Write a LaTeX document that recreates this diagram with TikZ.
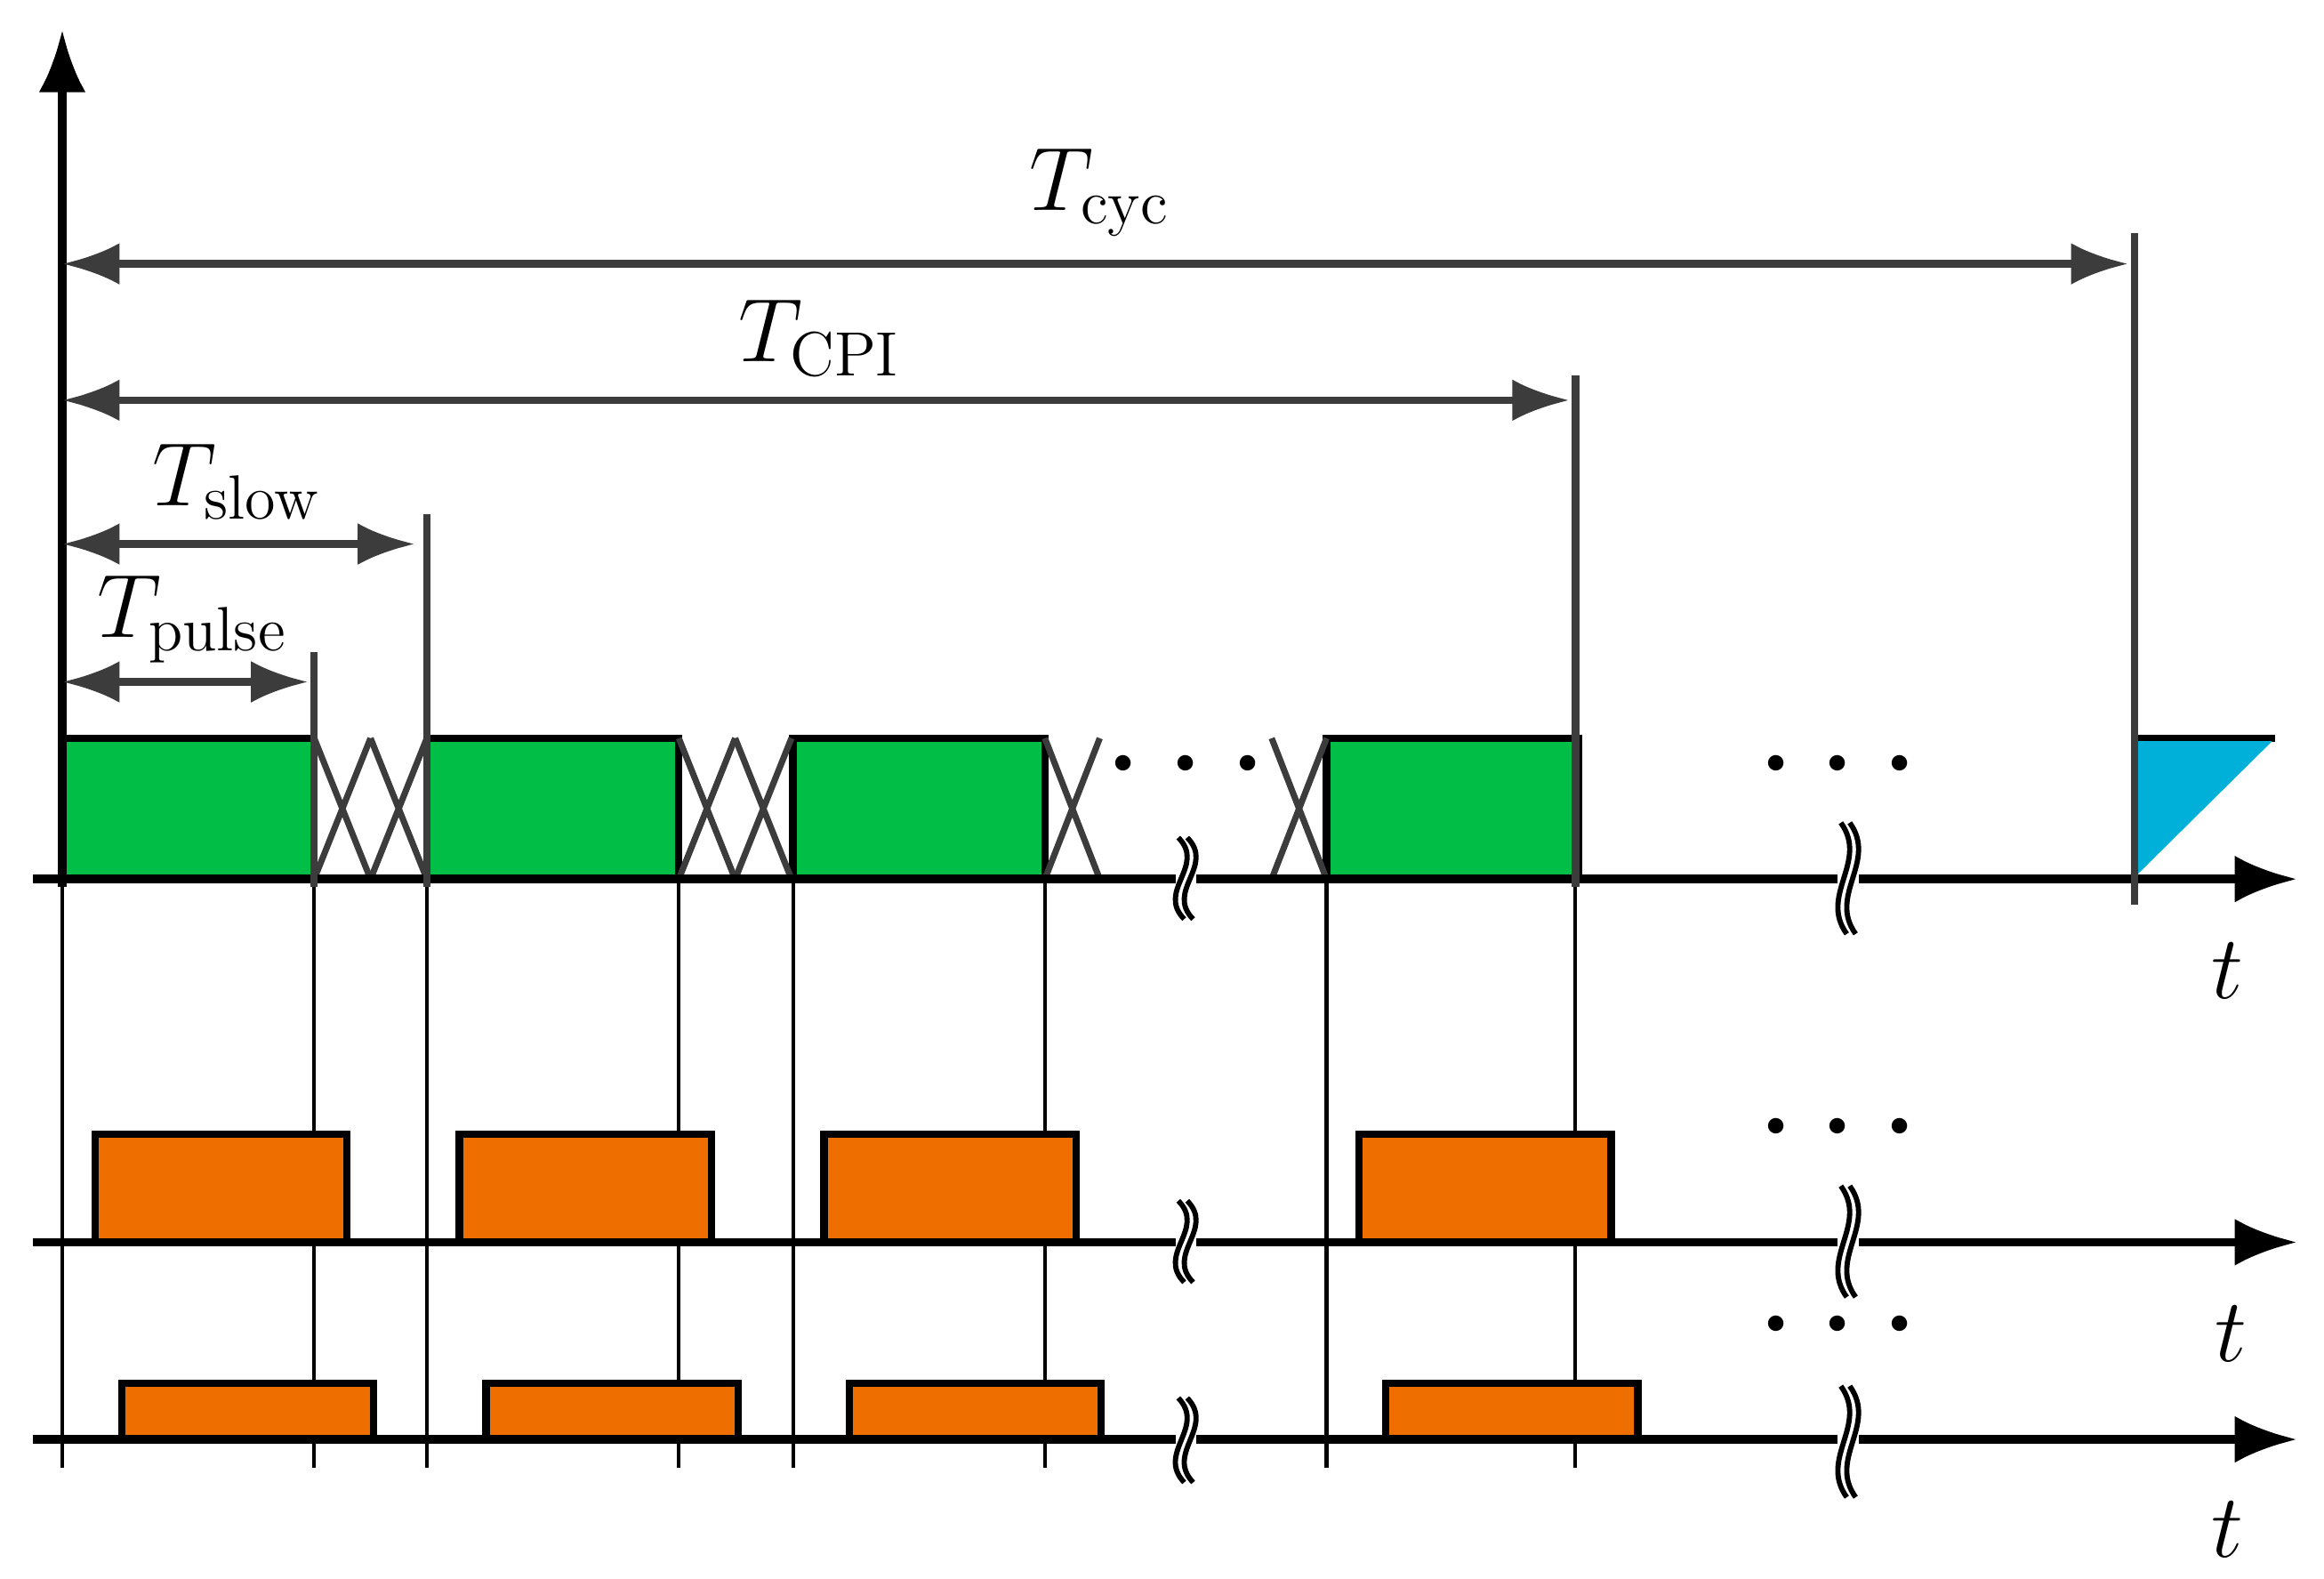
\documentclass[tikz,border=0pt]{standalone}
\usetikzlibrary{arrows.meta}
\definecolor{pgreen}{RGB}{0,190,70}
\definecolor{porange}{RGB}{238,110,0}
\definecolor{pblue}{RGB}{0,176,216}
\definecolor{dgray}{RGB}{60,60,60}
\tikzset{
  axis/.style={line width=1.6pt,-{Latex[length=12pt,width=9pt]}},
  dim/.style={line width=1.4pt,dgray,{Latex[length=11pt,width=8pt]}-{Latex[length=11pt,width=8pt]}},
  marker/.style={line width=1.4pt,dgray},
  guide/.style={line width=0.7pt},
  tx/.style={line width=1.2pt,dgray},
  slot/.style={draw=black,line width=1.4pt,fill=pgreen},
  echo/.style={draw=black,line width=1.4pt,fill=porange},
  lbl/.style={font=\fontsize{18.5}{22}\selectfont,inner sep=0pt},
  dots/.style={font=\fontsize{11}{13}\selectfont,inner sep=0pt}
}
\newcommand\tdots{\textbullet\hspace{3.5pt}\textbullet\hspace{3.5pt}\textbullet}
% break mark on a time axis
\newcommand\axisbreak[3]{%
  \fill[white] ({#1-7},#2) rectangle ({#1+7},#3);
  \draw[line width=1pt] ({#1-5},#2) .. controls ({#1+14},{#2+0.35*(#3-#2)}) and ({#1-20},{#2+0.65*(#3-#2)}) .. ({#1-1},#3);
  \draw[line width=1pt] ({#1+1},#2) .. controls ({#1+20},{#2+0.35*(#3-#2)}) and ({#1-14},{#2+0.65*(#3-#2)}) .. ({#1+5},#3);}
\begin{document}
\begin{tikzpicture}[x=0.01cm,y=-0.01cm]
  \useasboundingbox (0,0) rectangle (1568,1065);
  % Hilfslinien
  \foreach \x in {42,212,288,458,535,705,895,1063}
    \draw[guide] (\x,498) -- (\x,990);
  % gesendete Pulse
  \foreach \a in {42,288,535,895}
    \draw[slot] (\a,498) rectangle (\a+170,593);
  \foreach \a in {212,458} {
    \draw[tx] (\a,498) -- (\a+38,593) (\a,593) -- (\a+38,498);
    \draw[tx] (\a+38,498) -- (\a+76,593) (\a+38,593) -- (\a+76,498);
  }
  \draw[tx] (705,498) -- (742,593) (705,593) -- (742,498);
  \draw[tx] (858,593) -- (895,498) (858,498) -- (895,593);
  \draw[line width=1.4pt] (1440,498) -- (1535,498);
  \fill[pblue] (1442,500) -- (1533,500) -- (1442,590) -- cycle;
  % Echos
  \foreach \a in {64,310,556,917}
    \draw[echo] (\a,765) rectangle (\a+170,838);
  \foreach \a in {82,328,573,935}
    \draw[echo] (\a,933) rectangle (\a+170,971);
  % Achsen
  \coordinate (o) at (42,598);
  \coordinate (top) at (42,20);
  \draw[axis] (o) -- (top);
  \foreach \y/\n in {593/a,838/b,971/c} {
    \coordinate (s\n) at (22,\y);
    \coordinate (e\n) at (1550,\y);
    \draw[axis] (s\n) -- (e\n);
  }
  \node[lbl] (ta) at (1503,655) {$t$};
  \node[lbl] (tb) at (1505,900) {$t$};
  \node[lbl] (tc) at (1503,1032) {$t$};
  \axisbreak{800}{565}{620}
  \axisbreak{1247}{555}{630}
  \axisbreak{800}{810}{865}
  \axisbreak{1247}{800}{875}
  \axisbreak{800}{943}{1000}
  \axisbreak{1247}{935}{1010}
  \node[dots] (d1) at (800,517) {\tdots};
  \node[dots] (d2) at (1240,517) {\tdots};
  \node[dots] (d3) at (1240,762) {\tdots};
  \node[dots] (d4) at (1240,895) {\tdots};
  % Markierungen
  \draw[marker] (212,440) -- (212,598);
  \draw[marker] (288,347) -- (288,598);
  \draw[marker] (1063,253) -- (1063,598);
  \draw[marker] (1440,157) -- (1440,610);
  % Zeitspannen
  \coordinate (cyc0) at (42,178);  \coordinate (cyc1) at (1436,178);
  \coordinate (cpi0) at (42,270);  \coordinate (cpi1) at (1059,270);
  \coordinate (slw0) at (42,367);  \coordinate (slw1) at (280,367);
  \coordinate (pls0) at (42,460);  \coordinate (pls1) at (208,460);
  \draw[dim] (cyc0) -- (cyc1);
  \draw[dim] (cpi0) -- (cpi1);
  \draw[dim] (slw0) -- (slw1);
  \draw[dim] (pls0) -- (pls1);
  \node[lbl] (Tcyc) at (742,130) {$T_\mathrm{cyc}$};
  \node[lbl] (Tcpi) at (553,228) {$T_\mathrm{CPI}$};
  \node[lbl] (Tslow) at (160,325) {$T_\mathrm{slow}$};
  \node[lbl] (Tpulse) at (130,418) {$T_\mathrm{pulse}$};
\end{tikzpicture}
\end{document}
